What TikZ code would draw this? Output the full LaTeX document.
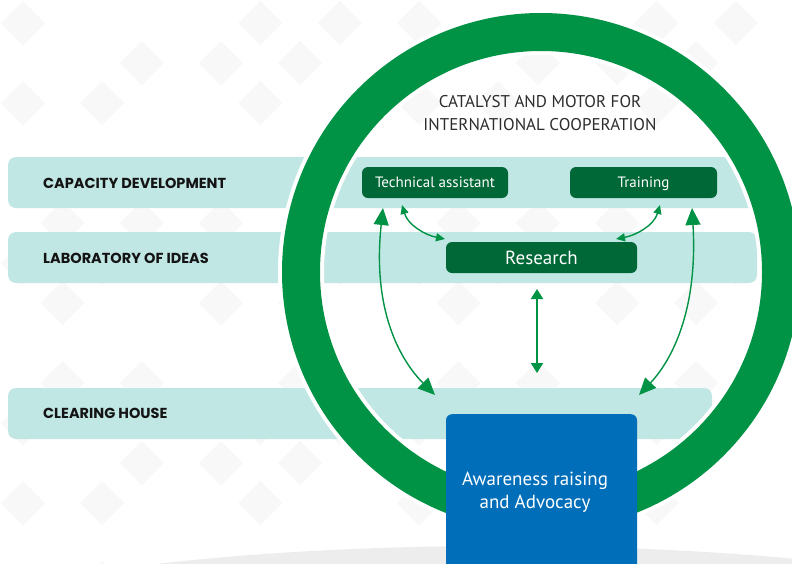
\documentclass[tikz,border=0pt]{standalone}
\usepackage{fontspec}
\setmainfont{PT Sans}
\newfontfamily\bandfont{Poppins}
\usetikzlibrary{arrows.meta}
\definecolor{ringgreen}{RGB}{0,146,69}
\definecolor{boxgreen}{RGB}{0,104,55}
\definecolor{bandc}{RGB}{193,231,228}
\definecolor{bluebox}{RGB}{0,110,185}
\definecolor{titlegray}{RGB}{45,45,45}
\definecolor{diamc}{RGB}{248,248,248}
\definecolor{floorc}{RGB}{237,237,237}
\begin{document}
\begin{tikzpicture}[x=1pt,y=-1pt,
  bandlabel/.style={anchor=west, inner sep=0pt, font=\bandfont\bfseries\fontsize{14.5}{16}\selectfont, text=black!92},
  gbox/.style={fill=boxgreen, rounded corners=6pt, text=white, inner sep=0pt, text height=10.5pt, text depth=0pt, font=\fontsize{15}{17}\selectfont},
  arr/.style={draw=ringgreen, line width=1.4pt, {Triangle[length=9pt,width=8pt]}-{Triangle[length=9pt,width=8pt]}},
  bigarr/.style={draw=ringgreen, line width=1.4pt, {Triangle[length=17pt,width=15pt]}-{Triangle[length=17pt,width=15pt]}},
  varr/.style={draw=ringgreen, line width=2pt, {Triangle[length=10pt,width=12pt]}-{Triangle[length=10pt,width=12pt]}},
]
\useasboundingbox (0,0) rectangle (792,563);
\clip (0,0) rectangle (792,563);
\fill[white] (0,0) rectangle (792,563);
% background diamonds
\foreach \i in {0,...,20}{\foreach \j in {0,...,14}{
  \pgfmathtruncatemacro\s{mod(\i+\j,2)}
  \pgfmathtruncatemacro\r{mod(\i*7+\j*11+\i*\j,5)}
  \ifnum\s=0 \ifnum\r<3
    \fill[diamc] ({23+39.6*\i},{23+40*\j}) +(-22,0) -- +(0,-22) -- +(22,0) -- +(0,22) -- cycle;
  \fi\fi
}}
% floor
\fill[floorc] (500,646) ellipse[x radius=600pt, y radius=100pt];
% bands
\fill[bandc, rounded corners=8pt] (8,157) rectangle (760,208);
\fill[bandc, rounded corners=8pt] (8,232) rectangle (757,283);
\fill[bandc, rounded corners=8pt] (8,388) rectangle (712,439);
\node[bandlabel] (cap) at (43,183) {CAPACITY DEVELOPMENT};
\node[bandlabel] (lab) at (43,258) {LABORATORY OF IDEAS};
\node[bandlabel] (clear) at (43,413) {CLEARING HOUSE};
% ring
\draw[white, line width=46pt] (541,272) circle[radius=240pt];
\draw[ringgreen, line width=38pt] (541,272) circle[radius=240pt];
% title
\node[align=center, text=titlegray, font=\fontsize{17}{23}\selectfont] (title) at (540,113) {CATALYST AND MOTOR FOR\\INTERNATIONAL COOPERATION};
% boxes
\node[gbox, minimum width=146pt, minimum height=31pt] (tech) at (435,182.5) {Technical assistant};
\node[gbox, minimum width=147pt, minimum height=31pt] (train) at (643.5,182.5) {Training};
\node[gbox, minimum width=191pt, minimum height=31pt, text height=13.3pt, font=\fontsize{19}{21}\selectfont] (res) at (541.5,257.5) {Research};
\node[fill=bluebox, rounded corners=6pt, minimum width=191pt, minimum height=170pt, anchor=north, inner sep=0pt] (aware) at (541.5,414) {};
\node[text=white, align=center, inner sep=0pt, font=\fontsize{19}{23}\selectfont] (awaretext) at (535,492) {Awareness raising\\and Advocacy};
% connector end points
\coordinate (t1) at (402,205);
\coordinate (r1) at (445,239);
\coordinate (t2) at (660,205);
\coordinate (r2) at (616,239);
\coordinate (lt) at (383,208);
\coordinate (lb) at (435,395);
\coordinate (rt) at (692,208);
\coordinate (rb) at (639,395);
\coordinate (vt) at (537,289);
\coordinate (vb) at (537,373);
% arrows
\draw[arr] (t1) .. controls (408,225) and (425,235) .. (r1);
\draw[arr] (t2) .. controls (654,225) and (637,235) .. (r2);
\draw[bigarr] (lt) .. controls (372,310) and (400,360) .. (lb);
\draw[bigarr] (rt) .. controls (698,310) and (672,360) .. (rb);
\draw[varr] (vt) -- (vb);
\end{tikzpicture}
\end{document}
